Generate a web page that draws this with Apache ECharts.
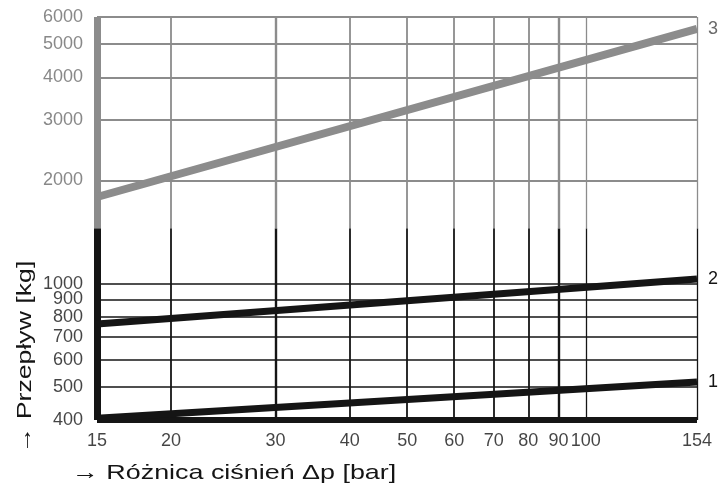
<!DOCTYPE html>
<html>
<head>
<meta charset="utf-8">
<script src="https://cdn.jsdelivr.net/npm/echarts@6/dist/echarts.min.js"></script>
<style>html,body{margin:0;padding:0;background:#fff}#c{width:720px;height:488px}</style>
</head>
<body>
<div id="c"></div>
<script>
// ---- data ----
const xTicks = [15, 20, 30, 40, 50, 60, 70, 80, 90, 100, 154];
const yTicksLow = [400, 500, 600, 700, 800, 900, 1000];
const yTicksHigh = [2000, 3000, 4000, 5000, 6000];
const splitValue = 1450;          // boundary between black (lower) and grey (upper) part
const curve1 = [[15, 405], [154, 516]];
const curve2 = [[15, 762], [154, 1032]];
const curve3 = [[15, 1790], [154, 5540]];
const curveNames = ['1', '2', '3'];
const xTitle = '→ Różnica ciśnień Δp [bar]';
const yTitle = '→ Przepływ [kg]';

// ---- styles ----
const BLACK = '#151515';
const GREY = '#8c8c8c';
const GREY_TXT = '#6a6a6a';
const FONT = 'Liberation Sans';
const xMin = xTicks[0], xMax = xTicks[xTicks.length - 1];
const yMin = yTicksLow[0], yMax = yTicksHigh[yTicksHigh.length - 1];

const gridLines = [];
yTicksLow.slice(1).forEach(v => gridLines.push({ yAxis: v, lineStyle: { color: BLACK, width: 1.6, type: 'solid' } }));
yTicksHigh.forEach(v => gridLines.push({ yAxis: v, lineStyle: { color: GREY, width: 2, type: 'solid' } }));
xTicks.slice(1).forEach(v => {
  const w = (v === 30 || v === 90) ? 2.4 : (v === 154 || v === 100 ? 1.3 : 1.8);
  gridLines.push([{ coord: [v, yMin], lineStyle: { color: BLACK, width: w, type: 'solid' } }, { coord: [v, splitValue] }]);
  gridLines.push([{ coord: [v, splitValue], lineStyle: { color: GREY, width: w, type: 'solid' } }, { coord: [v, yMax] }]);
});

const frameLines = [
  [{ coord: [xMin, yMin], lineStyle: { color: BLACK, width: 7, type: 'solid' } }, { coord: [xMin, splitValue] }],
  [{ coord: [xMin, splitValue], lineStyle: { color: GREY, width: 7, type: 'solid' } }, { coord: [xMin, yMax] }],
  [{ coord: [xMin, yMin], lineStyle: { color: BLACK, width: 6, type: 'solid' } }, { coord: [xMax, yMin] }]
];

function curve(name, data, color, width) {
  return {
    type: 'line', name: name, data: data, z: 6, showSymbol: false, silent: true,
    lineStyle: { color: color, width: width, cap: 'butt' },
    endLabel: { show: true, formatter: name, distance: 11, color: color === GREY ? GREY_TXT : BLACK,
      fontSize: 18, fontFamily: FONT }
  };
}

const chart = echarts.init(document.getElementById('c'), null, { renderer: 'canvas' });
chart.setOption({
  animation: false,
  backgroundColor: '#fff',
  grid: { left: 97, right: 23, top: 17, bottom: 68 },
  xAxis: { type: 'log', logBase: 10, min: xMin, max: xMax,
    axisLine: { show: false }, axisTick: { show: false }, axisLabel: { show: false }, splitLine: { show: false } },
  yAxis: { type: 'log', logBase: 10, min: yMin, max: yMax,
    axisLine: { show: false }, axisTick: { show: false }, axisLabel: { show: false }, splitLine: { show: false } },
  series: [
    { type: 'line', data: [[xMin, yMin]], showSymbol: false, lineStyle: { opacity: 0 }, z: 1, silent: true,
      markLine: { silent: true, symbol: ['none', 'none'], label: { show: false }, data: gridLines, animation: false } },
    { type: 'line', data: [[xMin, yMin]], showSymbol: false, lineStyle: { opacity: 0 }, z: 4, silent: true,
      markLine: { silent: true, symbol: ['none', 'none'], label: { show: false }, data: frameLines, animation: false } },
    curve(curveNames[0], curve1, BLACK, 7),
    curve(curveNames[1], curve2, BLACK, 7),
    curve(curveNames[2], curve3, GREY, 8),
    { type: 'scatter', symbolSize: 0, silent: true, z: 7,
      data: yTicksLow.concat(yTicksHigh).map(v => ({ value: [xMin, v],
        label: { color: v > splitValue ? GREY_TXT : BLACK } })),
      label: { show: true, position: 'left', distance: 14, fontSize: 18, fontFamily: FONT,
        formatter: p => String(p.value[1]) } },
    { type: 'scatter', symbolSize: 0, silent: true, z: 7,
      data: xTicks.map(v => [v, yMin]),
      label: { show: true, position: 'bottom', distance: 12, fontSize: 18, fontFamily: FONT, color: BLACK,
        formatter: p => String(p.value[0]) } }
  ],
  graphic: [
    { type: 'text', x: 72, y: 473, scaleX: 1.28,
      style: { text: xTitle, fontSize: 21, fontFamily: FONT, fill: BLACK, align: 'left', verticalAlign: 'middle' } },
    { type: 'text', x: 25, y: 357, rotation: Math.PI / 2, scaleX: 1.27,
      style: { text: yTitle, fontSize: 21, fontFamily: FONT, fill: BLACK, align: 'center', verticalAlign: 'middle' } }
  ]
});
</script>
</body>
</html>
